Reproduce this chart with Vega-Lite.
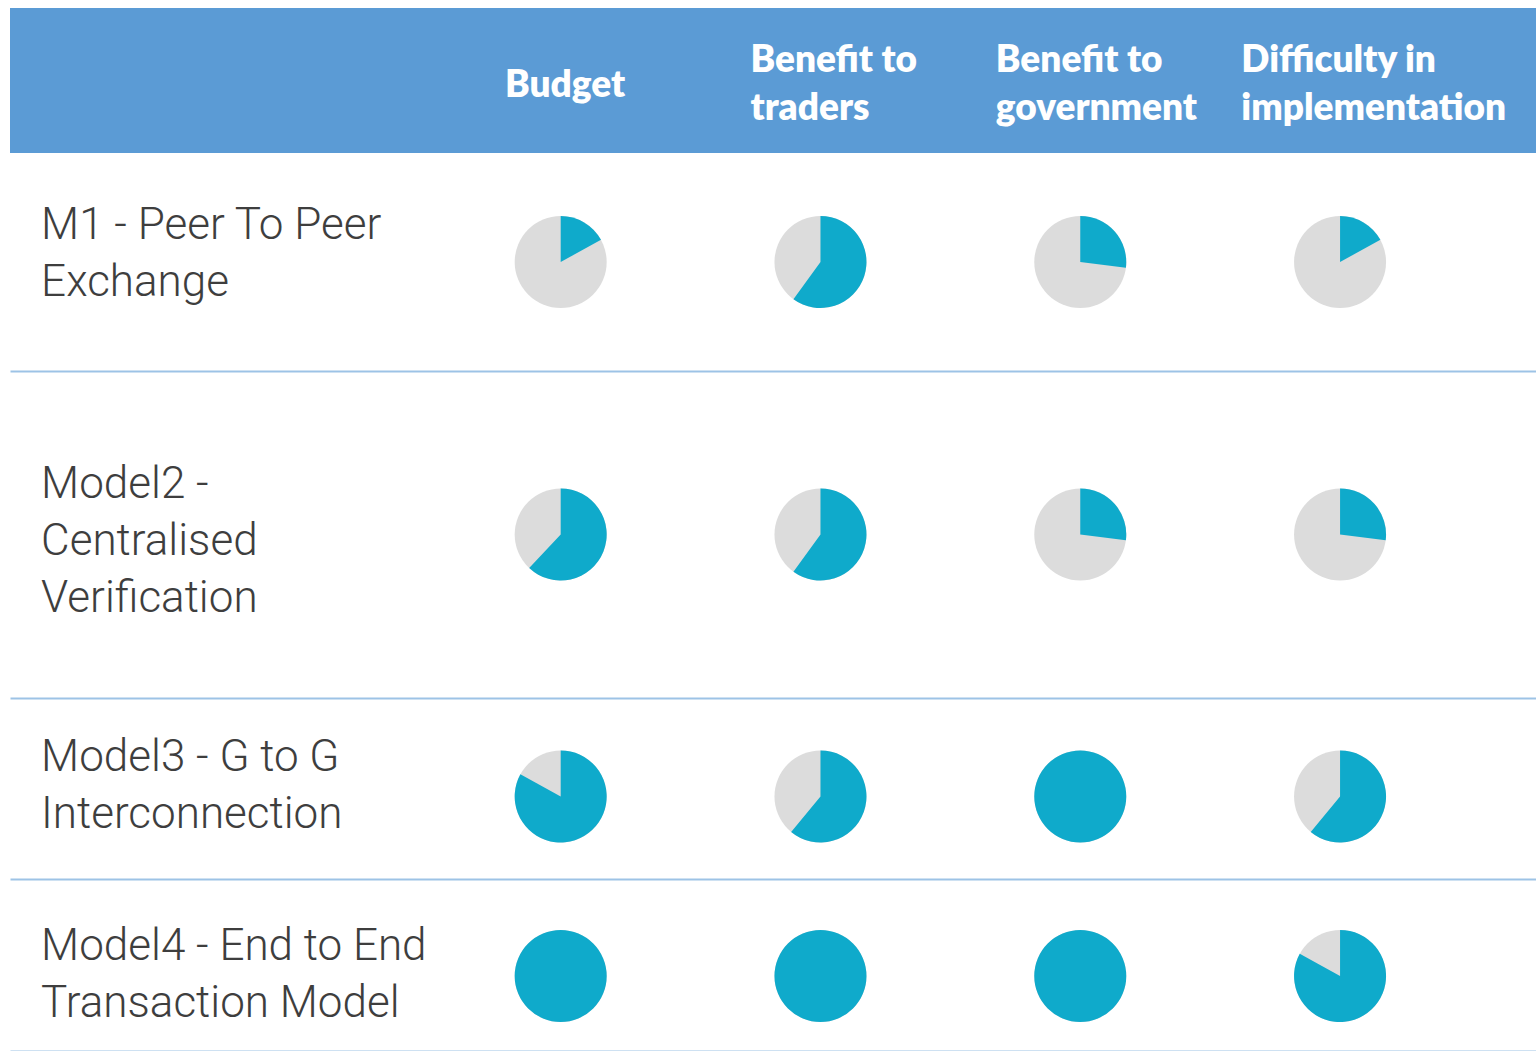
{
  "$schema": "https://vega.github.io/schema/vega-lite/v6.json",
  "background": "white",
  "padding": {"left": 10, "top": 8, "right": 0, "bottom": 0},
  "spacing": 0,
  "config": {
    "view": {"stroke": null},
    "concat": {"spacing": 0}
  },
  "datasets": {
    "headers": [
      {"criterion": "Budget", "title": "Budget"},
      {"criterion": "Benefit to traders", "title": ["Benefit to", "traders"]},
      {"criterion": "Benefit to government", "title": ["Benefit to", "government"]},
      {"criterion": "Difficulty in implementation", "title": ["Difficulty in", "implementation"]}
    ],
    "models": [
      {"model": "M1", "label": ["M1 - Peer To Peer", "Exchange"]},
      {"model": "M2", "label": ["Model2 -", "Centralised", "Verification"]},
      {"model": "M3", "label": ["Model3 - G to G", "Interconnection"]},
      {"model": "M4", "label": ["Model4 - End to End", "Transaction Model"]}
    ],
    "cells": [
      {"model": "M1", "criterion": "Budget", "score": 0.17},
      {"model": "M1", "criterion": "Benefit to traders", "score": 0.6},
      {"model": "M1", "criterion": "Benefit to government", "score": 0.27},
      {"model": "M1", "criterion": "Difficulty in implementation", "score": 0.17},
      {"model": "M2", "criterion": "Budget", "score": 0.62},
      {"model": "M2", "criterion": "Benefit to traders", "score": 0.6},
      {"model": "M2", "criterion": "Benefit to government", "score": 0.27},
      {"model": "M2", "criterion": "Difficulty in implementation", "score": 0.27},
      {"model": "M3", "criterion": "Budget", "score": 0.83},
      {"model": "M3", "criterion": "Benefit to traders", "score": 0.61},
      {"model": "M3", "criterion": "Benefit to government", "score": 1},
      {"model": "M3", "criterion": "Difficulty in implementation", "score": 0.61},
      {"model": "M4", "criterion": "Budget", "score": 1},
      {"model": "M4", "criterion": "Benefit to traders", "score": 1},
      {"model": "M4", "criterion": "Benefit to government", "score": 1},
      {"model": "M4", "criterion": "Difficulty in implementation", "score": 0.83}
    ]
  },
  "vconcat": [
    {
      "width": 1526,
      "height": 145,
      "view": {"fill": "#5B9BD5", "stroke": null},
      "data": {"name": "headers"},
      "encoding": {
        "x": {"field": "criterion", "type": "nominal", "axis": null,
              "scale": {"type": "point", "domain": ["Model", "gap", "Budget", "Benefit to traders", "Benefit to government", "Difficulty in implementation"], "padding": 0.609, "align": 0.014}},
        "text": {"field": "title"}
      },
      "layer": [
        {
          "transform": [{"filter": "!isArray(datum.title)"}],
          "mark": {"type": "text", "align": "left", "baseline": "middle", "font": "Lato", "fontWeight": 800, "fontSize": 37, "color": "white", "lineHeight": 48, "dy": 5}
        },
        {
          "transform": [{"filter": "isArray(datum.title)"}],
          "mark": {"type": "text", "align": "left", "baseline": "middle", "font": "Lato", "fontWeight": 800, "fontSize": 37, "color": "white", "lineHeight": 48, "dy": -20}
        }
      ]
    },
    {
      "width": 1526,
      "height": 218,
      "layer": [
        {
          "data": {"name": "models"},
          "transform": [{"filter": "datum.model === 'M1'"}],
          "mark": {"type": "text", "align": "left", "baseline": "middle", "font": "Roboto", "fontWeight": 300, "fontSize": 44, "color": "#3E3E3E", "lineHeight": 57, "dy": -36},
          "encoding": {
            "x": {"datum": "Model", "type": "nominal"},
            "text": {"field": "label"}
          }
        },
        {
          "data": {"name": "cells"},
          "transform": [{"filter": "datum.model === 'M1'"}],
          "mark": {"type": "point", "shape": "circle", "filled": true, "size": 8464, "color": "#DCDCDC", "opacity": 1, "strokeWidth": 0},
          "encoding": {"x": {"field": "criterion", "type": "nominal"}}
        },
        {
          "data": {"name": "cells"},
          "transform": [{"filter": "datum.model === 'M1'"}],
          "mark": {"type": "arc", "outerRadius": 46, "color": "#0FAACB"},
          "encoding": {
            "x": {"field": "criterion", "type": "nominal"},
            "theta": {"field": "score", "type": "quantitative", "stack": null, "scale": {"domain": [0, 1], "range": [0, 6.283185]}}
          }
        }
      ],
      "encoding": {
        "x": {"scale": {"type": "point", "domain": ["Model", "gap", "Budget", "Benefit to traders", "Benefit to government", "Difficulty in implementation"], "padding": 0.437, "align": 0.137},
              "axis": {"labels": false, "ticks": false, "title": null, "grid": false, "domainColor": "#9DC3E6", "domainWidth": 2, "minExtent": 0, "offset": 0}}
      }
    },
    {
      "width": 1526,
      "height": 327,
      "layer": [
        {
          "data": {"name": "models"},
          "transform": [{"filter": "datum.model === 'M2'"}],
          "mark": {"type": "text", "align": "left", "baseline": "middle", "font": "Roboto", "fontWeight": 300, "fontSize": 44, "color": "#3E3E3E", "lineHeight": 57, "dy": -50},
          "encoding": {
            "x": {"datum": "Model", "type": "nominal"},
            "text": {"field": "label"}
          }
        },
        {
          "data": {"name": "cells"},
          "transform": [{"filter": "datum.model === 'M2'"}],
          "mark": {"type": "point", "shape": "circle", "filled": true, "size": 8464, "color": "#DCDCDC", "opacity": 1, "strokeWidth": 0},
          "encoding": {"x": {"field": "criterion", "type": "nominal"}}
        },
        {
          "data": {"name": "cells"},
          "transform": [{"filter": "datum.model === 'M2'"}],
          "mark": {"type": "arc", "outerRadius": 46, "color": "#0FAACB"},
          "encoding": {
            "x": {"field": "criterion", "type": "nominal"},
            "theta": {"field": "score", "type": "quantitative", "stack": null, "scale": {"domain": [0, 1], "range": [0, 6.283185]}}
          }
        }
      ],
      "encoding": {
        "x": {"scale": {"type": "point", "domain": ["Model", "gap", "Budget", "Benefit to traders", "Benefit to government", "Difficulty in implementation"], "padding": 0.437, "align": 0.137},
              "axis": {"labels": false, "ticks": false, "title": null, "grid": false, "domainColor": "#9DC3E6", "domainWidth": 2, "minExtent": 0, "offset": 0}}
      }
    },
    {
      "width": 1526,
      "height": 181,
      "layer": [
        {
          "data": {"name": "models"},
          "transform": [{"filter": "datum.model === 'M3'"}],
          "mark": {"type": "text", "align": "left", "baseline": "middle", "font": "Roboto", "fontWeight": 300, "fontSize": 44, "color": "#3E3E3E", "lineHeight": 57, "dy": -31},
          "encoding": {
            "x": {"datum": "Model", "type": "nominal"},
            "text": {"field": "label"}
          }
        },
        {
          "data": {"name": "cells"},
          "transform": [{"filter": "datum.model === 'M3'"}],
          "mark": {"type": "point", "shape": "circle", "filled": true, "size": 8464, "color": "#DCDCDC", "opacity": 1, "strokeWidth": 0, "yOffset": 8},
          "encoding": {"x": {"field": "criterion", "type": "nominal"}}
        },
        {
          "data": {"name": "cells"},
          "transform": [{"filter": "datum.model === 'M3'"}],
          "mark": {"type": "arc", "outerRadius": 46, "color": "#0FAACB", "yOffset": 8},
          "encoding": {
            "x": {"field": "criterion", "type": "nominal"},
            "theta": {"field": "score", "type": "quantitative", "stack": null, "scale": {"domain": [0, 1], "range": [0, 6.283185]}}
          }
        }
      ],
      "encoding": {
        "x": {"scale": {"type": "point", "domain": ["Model", "gap", "Budget", "Benefit to traders", "Benefit to government", "Difficulty in implementation"], "padding": 0.437, "align": 0.137},
              "axis": {"labels": false, "ticks": false, "title": null, "grid": false, "domainColor": "#9DC3E6", "domainWidth": 2, "minExtent": 0, "offset": 0}}
      }
    },
    {
      "width": 1526,
      "height": 172,
      "layer": [
        {
          "data": {"name": "models"},
          "transform": [{"filter": "datum.model === 'M4'"}],
          "mark": {"type": "text", "align": "left", "baseline": "middle", "font": "Roboto", "fontWeight": 300, "fontSize": 44, "color": "#3E3E3E", "lineHeight": 57, "dy": -18},
          "encoding": {
            "x": {"datum": "Model", "type": "nominal"},
            "text": {"field": "label"}
          }
        },
        {
          "data": {"name": "cells"},
          "transform": [{"filter": "datum.model === 'M4'"}],
          "mark": {"type": "point", "shape": "circle", "filled": true, "size": 8464, "color": "#DCDCDC", "opacity": 1, "strokeWidth": 0, "yOffset": 11},
          "encoding": {"x": {"field": "criterion", "type": "nominal"}}
        },
        {
          "data": {"name": "cells"},
          "transform": [{"filter": "datum.model === 'M4'"}],
          "mark": {"type": "arc", "outerRadius": 46, "color": "#0FAACB", "yOffset": 11},
          "encoding": {
            "x": {"field": "criterion", "type": "nominal"},
            "theta": {"field": "score", "type": "quantitative", "stack": null, "scale": {"domain": [0, 1], "range": [0, 6.283185]}}
          }
        }
      ],
      "encoding": {
        "x": {"scale": {"type": "point", "domain": ["Model", "gap", "Budget", "Benefit to traders", "Benefit to government", "Difficulty in implementation"], "padding": 0.437, "align": 0.137},
              "axis": {"labels": false, "ticks": false, "title": null, "grid": false, "domainColor": "#9DC3E6", "domainWidth": 2, "minExtent": 0, "offset": 0}}
      }
    }
  ]
}
